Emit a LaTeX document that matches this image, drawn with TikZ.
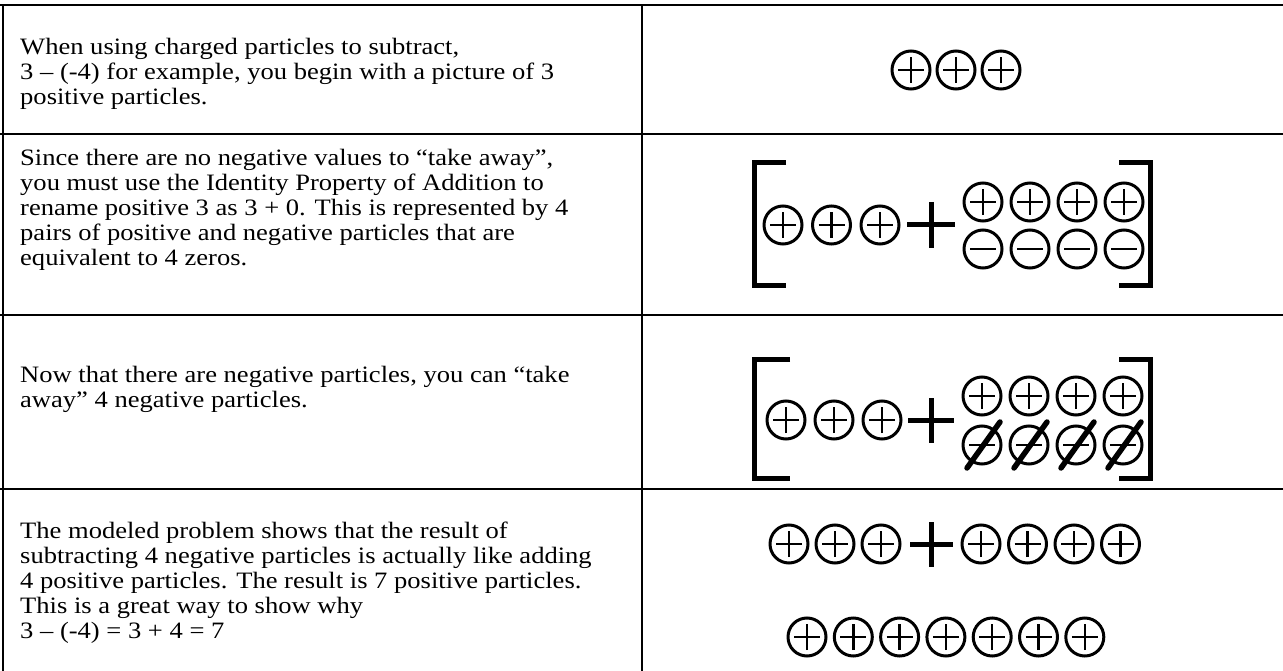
\documentclass[tikz,border=0pt]{standalone}
\usepackage{fontspec}
\setmainfont{Liberation Serif}[FakeStretch=1.13]
\usepackage{tikz}
\usetikzlibrary{positioning,calc}
\newcommand\firstln{\rule{0pt}{20pt}}

\begin{document}
\begin{tikzpicture}[x=1pt,y=-1pt,
  rule/.style={line width=2.6pt,black},
  note/.style={anchor=north west,inner sep=0pt,align=left,
    font=\fontsize{23.5}{25}\selectfont},
  plusp/.style={circle,draw,line width=3pt,minimum size=38pt,inner sep=0pt,
    path picture={\draw[line width=2.5pt]
      ([xshift=-13pt]path picture bounding box.center) -- ++(26pt,0pt)
      ([yshift=-13pt]path picture bounding box.center) -- ++(0pt,26pt);}},
  minusp/.style={circle,draw,line width=3pt,minimum size=38pt,inner sep=0pt,
    path picture={\draw[line width=2.5pt]
      ([xshift=-13pt]path picture bounding box.center) -- ++(26pt,0pt);}},
  bigplus/.style={line width=5pt},
  bracket/.style={line width=5pt},
  slash/.style={line width=5.5pt,line cap=round}
]
\useasboundingbox (0,0) rectangle (1283,671);
%--- table rules ---
\draw[rule] (0,5) -- (1283,5);
\draw[rule] (3,5) -- (3,671);
\draw[rule] (642,5) -- (642,671);
\draw[rule] (0,134) -- (1283,134);
\draw[rule] (0,315) -- (1283,315);
\draw[rule] (0,489) -- (1283,489);
%--- left column: explanations ---
\node[note] (txtA) at (20,34) {\firstln When using charged particles to subtract,\\
  3 – (-4) for example, you begin with a picture of 3\\
  positive particles.};
\node[note] (txtB) at (20,145) {\firstln Since there are no negative values to “take away”,\\
  you must use the Identity Property of Addition to\\
  rename positive 3 as 3 + 0. This is represented by 4\\
  pairs of positive and negative particles that are\\
  equivalent to 4 zeros.};
\node[note] (txtC) at (20,362) {\firstln Now that there are negative particles, you can “take\\
  away” 4 negative particles.};
\node[note] (txtD) at (20,518) {\firstln The modeled problem shows that the result of\\
  subtracting 4 negative particles is actually like adding\\
  4 positive particles. The result is 7 positive particles.\\
  This is a great way to show why\\
  3 – (-4) = 3 + 4 = 7};
%--- row 1: three positives ---
\foreach \i in {0,1,2}
  \node[plusp] (a\i) at (911+45*\i,70) {};
%--- row 2: 3 + 0 as four pairs ---
\begin{scope}
  \foreach \i in {0,1,2}
    \node[plusp] (b\i) at (783+48.5*\i,225) {};
  \draw[bigplus] (907,225) -- (955,225) (931,202) -- (931,248);
  \foreach \i in {0,1,2,3} {
    \node[plusp] (bt\i) at (983+47*\i,202) {};
    \node[minusp] (bb\i) at (983+47*\i,249) {};
  }
  \draw[bracket] (786,163) -- (754,163) -- (754,286) -- (786,286);
  \draw[bracket] (1119,163) -- (1150,163) -- (1150,286) -- (1119,286);
\end{scope}
%--- row 3: take away the negatives ---
\begin{scope}
  \foreach \i in {0,1,2}
    \node[plusp] (c\i) at (786+48*\i,420) {};
  \draw[bigplus] (908,420) -- (954,420) (931,398) -- (931,443);
  \foreach \i in {0,1,2,3} {
    \node[plusp] (ct\i) at (982+47*\i,396) {};
    \node[minusp] (cb\i) at (982+47*\i,445) {};
    \draw[slash] ($(cb\i.center)+(-15,23)$) -- ($(cb\i.center)+(18,-23)$);
  }
  \draw[bracket] (790,359) -- (754,359) -- (754,478) -- (790,478);
  \draw[bracket] (1119,359) -- (1150,359) -- (1150,478) -- (1119,478);
\end{scope}
%--- row 4: result ---
\foreach \i in {0,1,2}
  \node[plusp] (d\i) at (789+46*\i,544) {};
\draw[bigplus] (910,544) -- (953,544) (931,522) -- (931,567);
\foreach \i in {0,1,2,3}
  \node[plusp] (e\i) at (981+46.5*\i,544) {};
\foreach \i in {0,...,6}
  \node[plusp] (f\i) at (807+46.3*\i,637) {};
\end{tikzpicture}
\end{document}
